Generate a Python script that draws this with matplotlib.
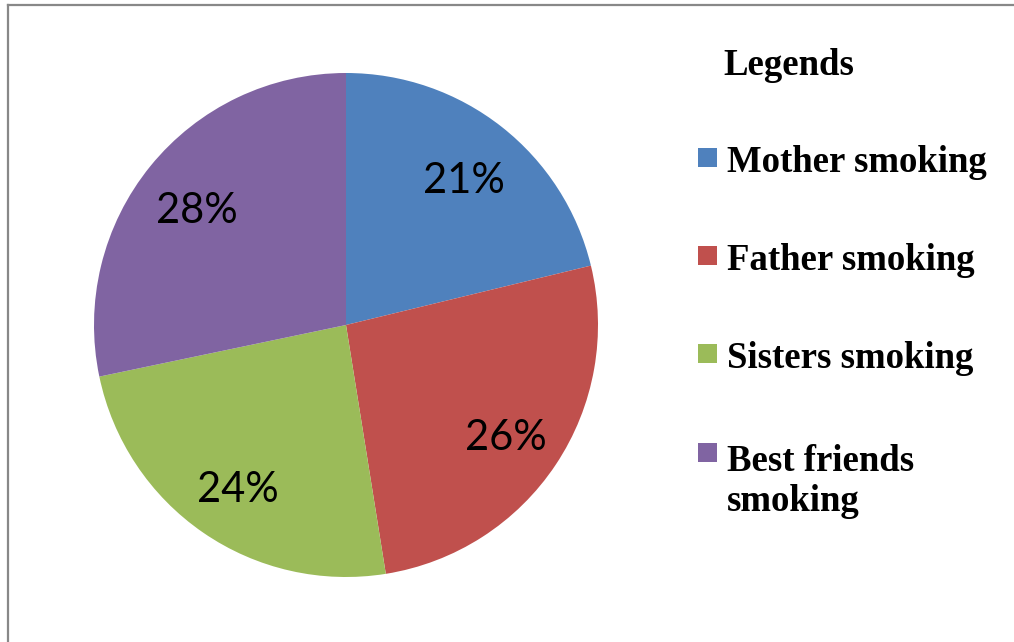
import matplotlib
matplotlib.use('Agg')
import matplotlib.pyplot as plt
from matplotlib.lines import Line2D
from matplotlib.patches import Rectangle

categories = ['Mother smoking', 'Father smoking', 'Sisters smoking',
              'Best friends\nsmoking']
shares = [21, 26, 24, 28]
colors = ['#4F81BD', '#C0504D', '#9BBB59', '#8064A2']

W, H = 1014, 642
fig = plt.figure(figsize=(W / 100, H / 100), dpi=100)

# pie: centre (346, 325) px, radius 252 px
cx, cy, r = 346, 325, 252
ax = fig.add_axes([(cx - r) / W, (H - cy - r) / H, 2 * r / W, 2 * r / H])
wedges, texts, autotexts = ax.pie(
    shares,
    colors=colors,
    startangle=90,
    counterclock=False,
    autopct=lambda p: f'{p * sum(shares) / 100:.0f}%',
    pctdistance=0.76,
    radius=1,
    textprops={'family': 'Lato', 'fontsize': 30, 'color': 'black'},
)
# labels sit a little lower in the original
for t in autotexts:
    x, y = t.get_position()
    t.set_position((x, y - 0.027))
ax.set_xlim(-1, 1)
ax.set_ylim(-1, 1)
ax.set_aspect('equal')
ax.axis('off')

# legend, laid out by hand (pixel positions)
font = {'family': 'Liberation Serif', 'weight': 'bold', 'size': 26.5}
line_h = 44
fig.text(723 / W, 1 - 75 / H, 'Legends', va='baseline', ha='left', **font)
baselines = [172, 270, 368, 467]
for label, color, base in zip(categories, colors, baselines):
    fig.add_artist(Rectangle((698 / W, 1 - (base - 5) / H), 19 / W, 19 / H,
                             facecolor=color, edgecolor='none',
                             transform=fig.transFigure))
    # va='baseline' on multi-line text anchors the last line
    last = base + line_h * label.count('\n')
    fig.text(727 / W, 1 - last / H, label, va='baseline', ha='left',
             linespacing=1.2, **font)

# frame lines (top and left)
fig.add_artist(Line2D([8 / W, 1], [1 - 5 / H, 1 - 5 / H],
                      color='#888888', lw=1.6, transform=fig.transFigure))
fig.add_artist(Line2D([8 / W, 8 / W], [1 - 5 / H, 0],
                      color='#888888', lw=1.6, transform=fig.transFigure))

fig.savefig('out.png', dpi=100)
